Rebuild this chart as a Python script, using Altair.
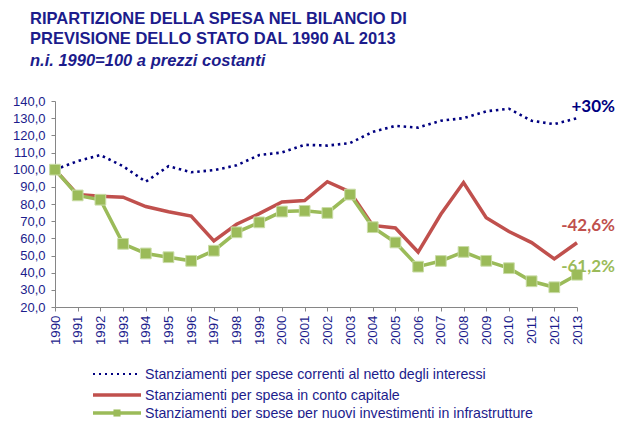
import altair as alt
import pandas as pd

years = list(range(1990, 2014))
correnti = [100, 105, 108.5, 102, 93, 102, 98.5, 99.7, 102.5, 108.5, 110, 114.5,
            114, 115.5, 122, 125.5, 124.5, 128.5, 130, 134, 135.5, 128.5, 126.5, 130]
capitale = [100, 85.5, 84.5, 84, 78.5, 75.5, 73, 58.5, 68.2, 74.4, 81.2, 82,
            93, 87, 67.5, 66, 52, 74, 92.5, 72, 64, 57.5, 48, 57.4]
infrastrutture = [100, 85, 82.5, 56.8, 51.2, 49, 46.9, 52.8, 63.5, 69.3, 75.6, 76,
                  74.8, 85.5, 66.5, 57.6, 43.5, 46.8, 52.1, 46.9, 42.6, 35, 31.5, 38.8]
labels = ["Stanziamenti per spese correnti al netto degli interessi",
          "Stanziamenti per spesa in conto capitale",
          "Stanziamenti per spese per nuovi investimenti in infrastrutture"]
end_labels = ["+30%", "-42,6%", "-61,2%"]
title_lines = ["RIPARTIZIONE  DELLA SPESA NEL BILANCIO DI",
               "PREVISIONE DELLO STATO DAL 1990 AL 2013"]
subtitle = "n.i. 1990=100 a prezzi costanti"
y_ticks = list(range(20, 150, 10))

NAVY = "#000080"
RED = "#C0504D"
GREEN = "#9BBB59"
TXT = "#1c1c8c"

def frame(vals):
    return pd.DataFrame({"anno": years, "valore": vals})

xenc = alt.X("anno:Q", scale=alt.Scale(domain=[1990, 2013], nice=False, zero=False),
             axis=alt.Axis(values=years, format="d", labelAngle=270, title=None,
                           grid=False, domainColor="#868686", tickColor="#868686",
                           tickSize=4, labelColor=TXT, labelFont="Liberation Sans",
                           labelFontSize=13.3, labelPadding=4, labelOverlap=False))
yenc = alt.Y("valore:Q", scale=alt.Scale(domain=[20, 140], nice=False, zero=False),
             axis=alt.Axis(values=y_ticks, title=None, grid=False,
                           labelExpr="replace(format(datum.value, '.1f'), '.', ',')",
                           domainColor="#868686", tickColor="#868686", tickSize=4,
                           labelColor=TXT, labelFont="Liberation Sans",
                           labelFontSize=13, labelPadding=6, labelOverlap=False))

l_corr = alt.Chart(frame(correnti)).mark_line(
    color=NAVY, strokeWidth=2.6, strokeDash=[2.5, 3.8]).encode(x=xenc, y=yenc)
l_cap = alt.Chart(frame(capitale)).mark_line(
    color=RED, strokeWidth=3.5).encode(x=xenc, y=yenc)
l_inf = alt.Chart(frame(infrastrutture)).mark_line(
    color=GREEN, strokeWidth=3.5).encode(x=xenc, y=yenc)
p_inf = alt.Chart(frame(infrastrutture)).mark_point(
    shape="square", filled=True, fill=GREEN, size=115, opacity=1,
    stroke="#c9dca6", strokeWidth=1).encode(x=xenc, y=yenc)

ends = [correnti[-1], capitale[-1], infrastrutture[-1]]
ann_cfg = [(NAVY, 38, -11), (RED, 38, -17), (GREEN, 38, -8)]
anns = []
for lab, v, (c, dx, dy) in zip(end_labels, ends, ann_cfg):
    anns.append(alt.Chart(pd.DataFrame({"anno": [2013], "valore": [v], "t": [lab]}))
                .mark_text(color=c, font="Lato", fontWeight="bold", fontSize=17,
                           dx=dx, dy=dy, align="right", baseline="middle")
                .encode(x=xenc, y=yenc, text="t:N"))

def txt(s, x, y, size, weight="normal", style="normal", color=TXT,
        font="Liberation Sans"):
    return alt.Chart(pd.DataFrame({"t": [s]})).mark_text(
        align="left", baseline="alphabetic", fontSize=size, fontWeight=weight,
        fontStyle=style, color=color, font=font).encode(
        x=alt.value(x), y=alt.value(y), text="t:N")

titles = [txt(title_lines[0], -25, -77, 16.5, "bold"),
          txt(title_lines[1], -25, -57, 16.5, "bold"),
          txt(subtitle, -25, -35, 16.5, "bold", "italic")]

# legend
leg = []
ly = [273, 294, 312]
leg.append(alt.Chart(pd.DataFrame({"a": [0]})).mark_rule(
    color=NAVY, strokeWidth=2.2, strokeDash=[2, 4]).encode(
    x=alt.value(38), x2=alt.value(86), y=alt.value(ly[0])))
leg.append(alt.Chart(pd.DataFrame({"a": [0]})).mark_rule(
    color=RED, strokeWidth=3.5).encode(
    x=alt.value(38), x2=alt.value(86), y=alt.value(ly[1])))
leg.append(alt.Chart(pd.DataFrame({"a": [0]})).mark_rule(
    color=GREEN, strokeWidth=3.5).encode(
    x=alt.value(38), x2=alt.value(86), y=alt.value(ly[2])))
leg.append(alt.Chart(pd.DataFrame({"a": [0]})).mark_point(
    shape="square", filled=True, fill=GREEN, size=50, opacity=1).encode(
    x=alt.value(62), y=alt.value(ly[2])))
for lab, yy in zip(labels, ly):
    leg.append(txt(lab, 90, yy + 5, 14.2))

chart = alt.layer(l_corr, l_cap, l_inf, p_inf, *anns, *titles, *leg).properties(
    width=522, height=206,
    autosize=alt.AutoSizeParams(type="none"),
    padding={"left": 47, "top": 93, "right": 38, "bottom": 111},
).configure_view(stroke=None)

chart.save("out.html", embed_options={"renderer": "svg", "actions": False})
